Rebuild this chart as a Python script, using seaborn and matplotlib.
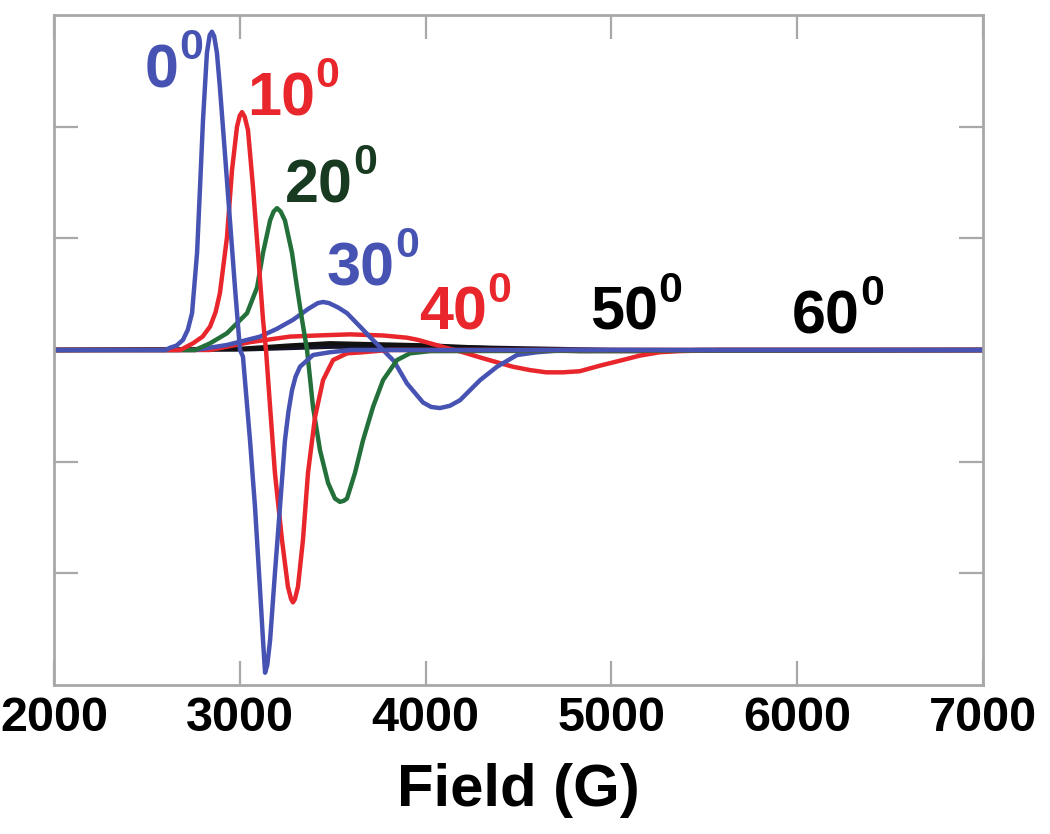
import pandas as pd
import numpy as np
import matplotlib
matplotlib.use("Agg")
import matplotlib.pyplot as plt
import seaborn as sns

# ---- values (field in G, derivative signal in arb. units) ----
field_0 = [2000, 2600, 2624, 2660, 2694, 2720, 2743, 2770, 2786, 2802, 2823, 2838, 2850,
           2862, 2877, 2893, 2920, 2947, 2974, 3001, 3017, 3055, 3082, 3109, 3125, 3136,
           3148, 3163, 3189, 3216, 3243, 3262, 3281, 3300, 3324, 3394, 3485, 3600, 7000]
sig_0 = [0, 0, 0.02, 0.04, 0.09, 0.18, 0.33, 0.87, 1.46, 2.06, 2.66, 2.82, 2.85,
         2.81, 2.66, 2.35, 1.76, 1.16, 0.56, 0, -0.06, -0.81, -1.41, -2.15, -2.60, -2.89,
         -2.82, -2.60, -2.00, -1.41, -0.81, -0.55, -0.36, -0.24, -0.15, -0.045, -0.02, 0, 0]

field_10 = [2000, 2680, 2748, 2800, 2840, 2870, 2893, 2931, 2958, 2985, 3000, 3012, 3026,
            3044, 3071, 3098, 3125, 3141, 3163, 3189, 3227, 3259, 3276, 3286, 3297, 3313,
            3340, 3367, 3405, 3448, 3502, 3577, 3663, 3800, 7000]
sig_10 = [0, 0, 0.06, 0.12, 0.21, 0.34, 0.51, 1.01, 1.61, 2.00, 2.10, 2.13, 2.09,
          1.97, 1.46, 0.87, 0.27, 0, -0.51, -1.10, -1.70, -2.12, -2.23, -2.26, -2.23, -2.12,
          -1.70, -1.10, -0.60, -0.27, -0.09, -0.03, -0.02, 0, 0]

field_20 = [2000, 2760, 2840, 2931, 3039, 3093, 3125, 3163, 3182, 3200, 3220, 3243, 3281,
            3308, 3335, 3362, 3394, 3432, 3475, 3512, 3539, 3560, 3577, 3620, 3663, 3717,
            3771, 3846, 3916, 4024, 7000]
sig_20 = [0, 0, 0.06, 0.15, 0.33, 0.56, 0.87, 1.16, 1.24, 1.27, 1.24, 1.16, 0.87,
          0.56, 0.27, 0, -0.51, -0.90, -1.19, -1.33, -1.36, -1.35, -1.33, -1.10, -0.81, -0.51,
          -0.27, -0.09, -0.03, -0.01, 0]

field_30 = [2000, 2760, 2931, 3109, 3200, 3286, 3370, 3420, 3448, 3480, 3530, 3577, 3647,
            3710, 3771, 3830, 3900, 3986, 4030, 4077, 4130, 4185, 4293, 4384, 4492, 4600,
            4750, 7000]
sig_30 = [0, 0, 0.045, 0.12, 0.19, 0.27, 0.37, 0.42, 0.43, 0.42, 0.38, 0.33, 0.21,
          0.10, 0, -0.10, -0.30, -0.47, -0.51, -0.52, -0.50, -0.45, -0.27, -0.15, -0.045, -0.02,
          0, 0]

field_40 = [2000, 2840, 3055, 3270, 3415, 3593, 3771, 3900, 3960, 4024, 4110, 4201, 4300,
            4384, 4470, 4562, 4650, 4739, 4830, 4939, 5060, 5154, 5260, 5369, 5584, 7000]
sig_40 = [0, 0, 0.07, 0.12, 0.13, 0.14, 0.13, 0.11, 0.09, 0.06, 0.02, -0.02, -0.07,
          -0.11, -0.15, -0.18, -0.20, -0.20, -0.19, -0.14, -0.09, -0.05, -0.02, -0.01, 0, 0]

field_50 = [2000, 3001, 3270, 3485, 3755, 4024, 4293, 4562, 4831, 5208, 5477, 7000]
sig_50 = [0, 0.01, 0.04, 0.06, 0.05, 0.04, 0.02, 0, -0.01, -0.01, 0, 0]

field_60 = [2000, 3000, 3500, 4000, 4500, 5000, 6000, 7000]
sig_60 = [0, 0.005, 0.03, 0.03, 0.015, 0, -0.005, 0]

angles = ["60", "50", "40", "30", "20", "10", "0"]
line_colors = {"0": "#4753b3", "10": "#e8262c", "20": "#23703a", "30": "#4753b3",
               "40": "#e8262c", "50": "#111111", "60": "#141428"}

# label positions (field, signal) and text colours
label_x = {"0": 2490, "10": 3039, "20": 3243, "30": 3469, "40": 3964, "50": 4885, "60": 5972}
label_y = {"0": 2.35, "10": 2.10, "20": 1.32, "30": 0.58, "40": 0.18, "50": 0.18, "60": 0.15}
label_colors = {"0": "#4753b3", "10": "#e8262c", "20": "#173a20", "30": "#4753b3",
                "40": "#e8262c", "50": "#000000", "60": "#000000"}

x_ticks = [2000, 3000, 4000, 5000, 6000, 7000]
y_ticks = [-2, -1, 0, 1, 2]

curves = {"0": (field_0, sig_0), "10": (field_10, sig_10), "20": (field_20, sig_20),
          "30": (field_30, sig_30), "40": (field_40, sig_40), "50": (field_50, sig_50),
          "60": (field_60, sig_60)}

df = pd.concat(
    [pd.DataFrame({"field": f, "signal": s, "angle": a}) for a, (f, s) in curves.items()],
    ignore_index=True,
)

sns.set_style("white")
plt.rcParams["font.family"] = ["Liberation Sans", "DejaVu Sans"]
plt.rcParams["font.weight"] = "bold"

fig = plt.figure(figsize=(10.5, 8.34), dpi=100)
ax = fig.add_axes([54 / 1050, 1 - 685 / 834, 929 / 1050, 670 / 834])

sns.lineplot(data=df, x="field", y="signal", hue="angle", hue_order=angles,
             palette=line_colors, estimator=None, sort=False, legend=False,
             linewidth=3.2, ax=ax)

for a in angles:
    t = ax.text(label_x[a], label_y[a], a, color=label_colors[a], fontsize=44,
                fontweight="bold", ha="left", va="baseline")
    # superscript "0" placed just past the top-right corner of the number
    ax.annotate("0", xy=(1, 1), xycoords=t, xytext=(0.4, 11), textcoords="offset points",
                color=label_colors[a], fontsize=31, fontweight="bold", ha="left", va="top")

ax.set_xlim(2000, 7000)
ax.set_ylim(-3, 3)
ax.set_xticks(x_ticks)
ax.set_yticks(y_ticks)
ax.set_yticklabels([])
ax.set_ylabel("")
ax.set_xlabel("Field (G)", fontsize=43, fontweight="bold", color="black", labelpad=16)

gray = "#a8a8a8"
for sp in ax.spines.values():
    sp.set_color(gray)
    sp.set_linewidth(2)
ax.tick_params(axis="both", direction="in", bottom=True, left=True, top=True, right=True,
               length=17, width=1.6, color=gray, labelcolor="black")
ax.tick_params(axis="x", labelsize=35, pad=8)
for lbl in ax.get_xticklabels():
    lbl.set_fontweight("bold")

plt.savefig("out.png", dpi=100)
